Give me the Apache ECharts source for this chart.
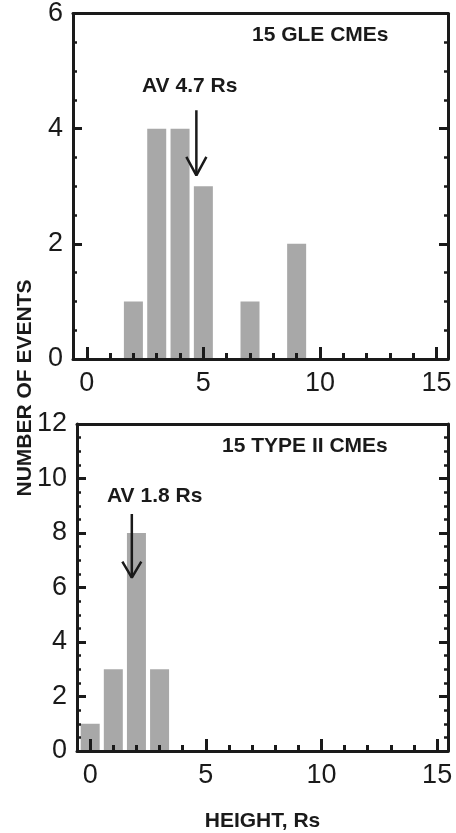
<!DOCTYPE html>
<html>
<head>
<meta charset="utf-8">
<script src="https://cdn.jsdelivr.net/npm/echarts@6/dist/echarts.min.js"></script>
<style>
  html, body { margin: 0; padding: 0; background: #fff; }
  #main { width: 456px; height: 833px; }
</style>
</head>
<body>
<div id="main"></div>
<script>
// histogram bins (height, Rs) and event counts
var glePos = [2, 3, 4, 5, 7, 9];
var gleCounts = [1, 4, 4, 3, 1, 2];
var typePos = [0, 1, 2, 3];
var typeCounts = [1, 3, 8, 3];
var xTickLabels = [0, 5, 10, 15];
var xMinorTicks = [0, 1, 2, 3, 4, 5, 6, 7, 8, 9, 10, 11, 12, 13, 14, 15];
var gleAvg = 4.7;
var typeAvg = 1.8;

var ink = '#1a1a1a';
var barColor = '#a8a8a8';
var font = 'Liberation Sans, Arial, sans-serif';

function pairs(xs, ys) {
    return xs.map(function (x, i) { return [x, ys[i]]; });
}

// x axes: labelled bottom axis, minor-tick axis, and top frame line
function xAxes(gridIndex, min, max, withName) {
    return [
        {
            gridIndex: gridIndex, type: 'value', position: 'bottom', min: min, max: max, z: 5,
            axisLine: { show: true, onZero: false, lineStyle: { color: ink, width: 3 } },
            axisTick: { show: true, inside: true, length: 12, customValues: xTickLabels, lineStyle: { color: ink, width: 3 } },
            axisLabel: { show: true, customValues: xTickLabels, color: ink, fontSize: 27, fontFamily: font, margin: 11 },
            splitLine: { show: false },
            name: withName ? 'HEIGHT, Rs' : '',
            nameLocation: 'middle', nameGap: 60,
            nameTextStyle: { color: ink, fontSize: 21, fontWeight: 'bold', fontFamily: font }
        },
        {
            gridIndex: gridIndex, type: 'value', position: 'bottom', min: min, max: max, z: 5,
            axisLine: { show: false, onZero: false },
            axisTick: { show: true, inside: true, length: 6, customValues: xMinorTicks, lineStyle: { color: ink, width: 3 } },
            axisLabel: { show: false },
            splitLine: { show: false }
        },
        {
            gridIndex: gridIndex, type: 'value', position: 'top', min: min, max: max, z: 5,
            axisLine: { show: true, onZero: false, lineStyle: { color: ink, width: 3 } },
            axisTick: { show: false }, axisLabel: { show: false }, splitLine: { show: false }
        }
    ];
}

function yAxes(gridIndex, max) {
    var tick = { show: true, inside: true, length: 9, lineStyle: { color: ink, width: 3 } };
    var minor = { show: true, splitNumber: 4, length: 4, lineStyle: { color: ink, width: 2.5 } };
    return [
        {
            gridIndex: gridIndex, type: 'value', position: 'left', min: 0, max: max, interval: 2, z: 5,
            axisLine: { show: true, onZero: false, lineStyle: { color: ink, width: 3 } },
            axisTick: tick, minorTick: minor,
            axisLabel: { color: ink, fontSize: 27, fontFamily: font, margin: 10 },
            splitLine: { show: false }, minorSplitLine: { show: false }
        },
        {
            gridIndex: gridIndex, type: 'value', position: 'right', min: 0, max: max, interval: 2, z: 5,
            axisLine: { show: true, onZero: false, lineStyle: { color: ink, width: 3 } },
            axisTick: tick, minorTick: minor,
            axisLabel: { show: false },
            splitLine: { show: false }, minorSplitLine: { show: false }
        }
    ];
}

function arrow(xi, yi, x, yTop, yTip, headW, headL) {
    return [
        {
            type: 'line', xAxisIndex: xi, yAxisIndex: yi, symbol: 'none', z: 6,
            lineStyle: { color: ink, width: 2.5 },
            data: [[x, yTop], [x, yTip]]
        },
        {
            type: 'line', xAxisIndex: xi, yAxisIndex: yi, symbol: 'none', z: 6,
            lineStyle: { color: ink, width: 2.5 },
            data: [[x - headW, yTip + headL], [x, yTip], [x + headW, yTip + headL]]
        }
    ];
}

var chart = echarts.init(document.getElementById('main'));

var option = {
    animation: false,
    backgroundColor: '#fff',
    grid: [
        { left: 73, top: 13, width: 375, height: 346 },
        { left: 77, top: 424, width: 371, height: 339 }
    ],
    xAxis: xAxes(0, -0.59, 15.49, false).concat(xAxes(1, -0.57, 15.47, true)),
    yAxis: yAxes(0, 6).concat(yAxes(1, 12)),
    series: [
        {
            type: 'bar', xAxisIndex: 0, yAxisIndex: 0, barWidth: 19, z: 2,
            itemStyle: { color: barColor },
            data: pairs(glePos, gleCounts)
        },
        {
            type: 'bar', xAxisIndex: 3, yAxisIndex: 2, barWidth: 19, z: 2,
            itemStyle: { color: barColor },
            data: pairs(typePos, typeCounts)
        }
    ].concat(arrow(0, 0, gleAvg, 4.32, 3.19, 0.43, 0.32))
     .concat(arrow(3, 2, typeAvg, 8.7, 6.36, 0.41, 0.59)),
    graphic: [
        {
            type: 'text', x: 25, y: 388, rotation: Math.PI / 2,
            style: { text: 'NUMBER OF EVENTS', fill: ink, font: 'bold 21px ' + font, textAlign: 'center', textVerticalAlign: 'middle' }
        },
        {
            type: 'text', x: 252, y: 35,
            style: { text: '15 GLE CMEs', fill: ink, font: 'bold 21px ' + font, textVerticalAlign: 'middle' }
        },
        {
            type: 'text', x: 142, y: 86,
            style: { text: 'AV 4.7 Rs', fill: ink, font: 'bold 21px ' + font, textVerticalAlign: 'middle' }
        },
        {
            type: 'text', x: 222, y: 446,
            style: { text: '15 TYPE II CMEs', fill: ink, font: 'bold 21px ' + font, textVerticalAlign: 'middle' }
        },
        {
            type: 'text', x: 107, y: 496,
            style: { text: 'AV 1.8 Rs', fill: ink, font: 'bold 21px ' + font, textVerticalAlign: 'middle' }
        }
    ]
};

chart.setOption(option);
</script>
</body>
</html>
